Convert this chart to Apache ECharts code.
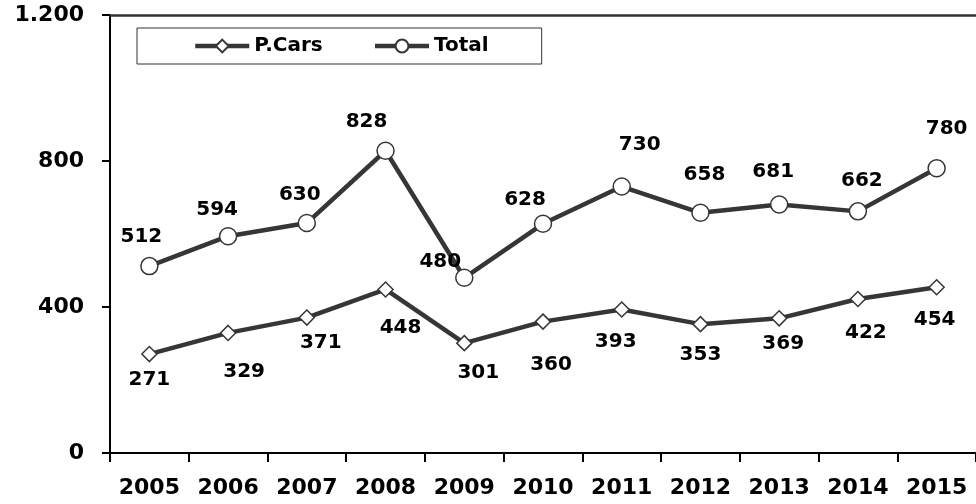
<!DOCTYPE html>
<html>
<head>
<meta charset="utf-8">
<script src="https://cdn.jsdelivr.net/npm/echarts@6/dist/echarts.min.js"></script>
<style>
html,body{margin:0;padding:0;background:#fff;}
#chart{width:976px;height:504px;}
</style>
</head>
<body>
<div id="chart"></div>
<script>
// ---- data ----
var years = ['2005','2006','2007','2008','2009','2010','2011','2012','2013','2014','2015'];
var pCars = [271, 329, 371, 448, 301, 360, 393, 353, 369, 422, 454];
var total = [512, 594, 630, 828, 480, 628, 730, 658, 681, 662, 780];
var seriesNames = ['P.Cars', 'Total'];

// ---- label placement (style) ----
var pCarsLabelOffsets = [[0,26],[16,39],[14,25],[15,38],[14,30],[8,43],[-6,32],[0,31],[4,25],[8,34],[-2,33]];
var totalLabelOffsets = [[-8,-29],[-11,-26],[-7,-28],[-19,-29],[-24,-16],[-18,-24],[18,-42],[4,-38],[-6,-33],[4,-31],[10,-40]];

function withOffsets(values, offsets) {
  return values.map(function (v, i) {
    return { value: v, label: { offset: offsets[i] } };
  });
}
function fmtThousands(v) {
  return String(v).replace(/\B(?=(\d{3})+(?!\d))/g, '.');
}

var FONT = 'DejaVu Sans';
var lineColor = '#363636';

var chart = echarts.init(document.getElementById('chart'), null, { renderer: 'canvas' });
chart.setOption({
  backgroundColor: '#fff',
  animation: false,
  grid: { left: 110, right: -5, top: 15, bottom: 51 },
  legend: {
    data: seriesNames,
    left: 137, top: 28,
    orient: 'horizontal',
    padding: [8, 53, 8, 56],
    borderColor: '#333', borderWidth: 1,
    itemWidth: 54, itemHeight: 16, itemGap: 50,
    lineStyle: { width: 4.5, color: lineColor },
    textStyle: { fontFamily: FONT, fontWeight: 'bold', fontSize: 20, color: '#000' }
  },
  xAxis: [{
    type: 'category',
    data: years,
    boundaryGap: true,
    axisLine: { lineStyle: { color: '#000', width: 2 } },
    axisTick: { show: true, interval: 0, length: 9, inside: false, lineStyle: { color: '#000', width: 2 } },
    axisLabel: { interval: 0, hideOverlap: false, margin: 24, fontFamily: FONT, fontWeight: 'bold', fontSize: 22, color: '#000' },
    splitLine: { show: false }
  }, {
    type: 'category',
    data: years,
    position: 'top',
    axisLine: { show: true, lineStyle: { color: '#333', width: 2.5 } },
    axisTick: { show: false },
    axisLabel: { show: false },
    splitLine: { show: false }
  }],
  yAxis: {
    type: 'value',
    min: 0, max: 1200, interval: 400,
    axisLine: { show: true, lineStyle: { color: '#000', width: 2 } },
    axisTick: { show: true, length: 8, lineStyle: { color: '#000', width: 2 } },
    axisLabel: {
      margin: 26, fontFamily: FONT, fontWeight: 'bold', fontSize: 22, color: '#000',
      formatter: function (v) { return fmtThousands(v); }
    },
    splitLine: { show: false }
  },
  series: [{
    name: seriesNames[0],
    type: 'line',
    data: withOffsets(pCars, pCarsLabelOffsets),
    symbol: 'diamond', symbolSize: 15,
    lineStyle: { color: lineColor, width: 4.5 },
    itemStyle: { color: '#fff', borderColor: lineColor, borderWidth: 1.5 },
    label: { show: true, position: 'inside', fontFamily: FONT, fontWeight: 'bold', fontSize: 20, color: '#000' },
    z: 3
  }, {
    name: seriesNames[1],
    type: 'line',
    data: withOffsets(total, totalLabelOffsets),
    symbol: 'circle', symbolSize: 17,
    lineStyle: { color: lineColor, width: 4.5 },
    itemStyle: { color: '#fff', borderColor: lineColor, borderWidth: 1.5 },
    label: { show: true, position: 'inside', fontFamily: FONT, fontWeight: 'bold', fontSize: 20, color: '#000' },
    z: 3
  }]
});
</script>
</body>
</html>
